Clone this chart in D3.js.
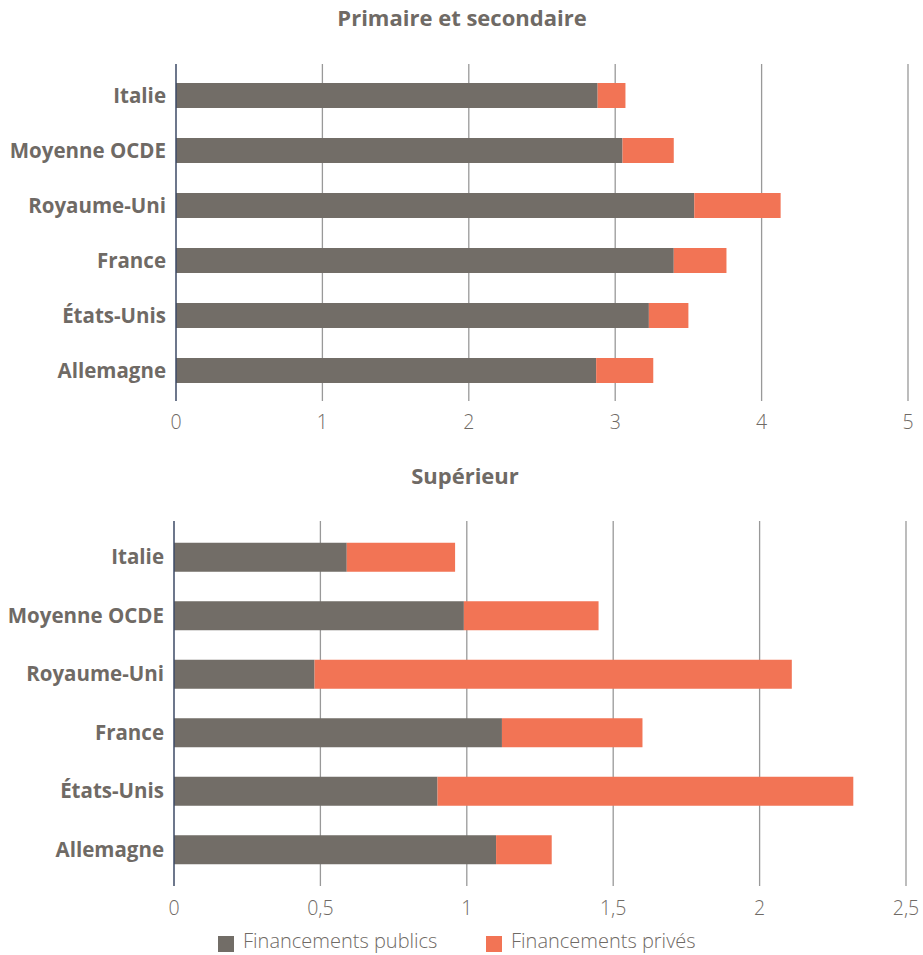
<!DOCTYPE html>
<html><head><meta charset="utf-8">
<script src="https://cdn.jsdelivr.net/npm/d3@7"></script>
<style>body{margin:0;background:#fff;} svg{display:block;}</style>
</head><body>
<script>
const categories = ["Italie","Moyenne OCDE","Royaume-Uni","France","États-Unis","Allemagne"];
const primPublic = [2.88,3.05,3.54,3.40,3.23,2.87];
const primPrive  = [0.19,0.35,0.59,0.36,0.27,0.39];
const supPublic  = [0.59,0.99,0.48,1.12,0.90,1.10];
const supPrive   = [0.37,0.46,1.63,0.48,1.42,0.19];
const primTicks = [0,1,2,3,4,5];
const supTicks = [0,0.5,1,1.5,2,2.5];
const seriesNames = ["Financements publics","Financements privés"];
const colors = ["#726d67","#f27455"];

const W=923,H=955;
const svg=d3.select("body").append("svg").attr("width",W).attr("height",H);
const font="'Open Sans', sans-serif";
const textCol="#6f6a65";
const fmt = v => String(v).replace(".",",");

function panel(opts){
  const {title,titleY,pub,priv,ticks,x0,x1,domMax,gridTop,gridBot,bandTop,bandBot,barH,tickY}=opts;
  const x=d3.scaleLinear().domain([0,domMax]).range([x0,x1]);
  const y=d3.scaleBand().domain(categories).range([bandTop,bandBot]).paddingInner(0).paddingOuter(0);
  svg.append("text").attr("x",opts.titleX).attr("y",titleY).attr("text-anchor","middle")
    .attr("font-family",font).attr("font-weight",700).attr("font-size",22).attr("fill",textCol).text(title);
  const g=svg.append("g");
  g.selectAll("line.grid").data(ticks.slice(1)).join("line")
    .attr("x1",d=>x(d)).attr("x2",d=>x(d)).attr("y1",gridTop).attr("y2",gridBot)
    .attr("stroke","#999").attr("stroke-width",1.3);
  categories.forEach((c,i)=>{
    const yc=y(c)+y.bandwidth()/2;
    g.append("rect").attr("x",x(0)).attr("y",yc-barH/2).attr("width",x(pub[i])-x(0)).attr("height",barH).attr("fill",colors[0]);
    g.append("rect").attr("x",x(pub[i])).attr("y",yc-barH/2).attr("width",x(pub[i]+priv[i])-x(pub[i])).attr("height",barH).attr("fill",colors[1]);
    g.append("text").attr("x",x0-10).attr("y",yc).attr("dy","0.35em").attr("text-anchor","end")
      .attr("font-family",font).attr("font-weight",700).attr("font-size",20.5).attr("fill",textCol).text(c);
  });
  g.append("line").attr("x1",x(0)).attr("x2",x(0)).attr("y1",gridTop).attr("y2",gridBot)
    .attr("stroke","#3d4a66").attr("stroke-width",1.5);
  g.selectAll("text.tick").data(ticks).join("text").attr("class","tick")
    .attr("x",d=>x(d)).attr("y",tickY).attr("text-anchor","middle")
    .attr("font-family",font).attr("font-weight",300).attr("font-size",19.5).attr("fill",textCol).text(fmt);
}

panel({title:"Primaire et secondaire",titleX:462,titleY:26,pub:primPublic,priv:primPrive,ticks:primTicks,
  x0:176,x1:908,domMax:5,gridTop:64,gridBot:401,bandTop:68,bandBot:398,barH:25,tickY:429});
panel({title:"Supérieur",titleX:465,titleY:484,pub:supPublic,priv:supPrive,ticks:supTicks,
  x0:174,x1:906,domMax:2.5,gridTop:521,gridBot:886,bandTop:528,bandBot:879,barH:29,tickY:915});

const leg=svg.append("g");
const lx=[218,486];
seriesNames.forEach((n,i)=>{
  leg.append("rect").attr("x",lx[i]).attr("y",936).attr("width",16).attr("height",16).attr("fill",colors[i]);
  leg.append("text").attr("x",lx[i]+25).attr("y",948).attr("font-family",font)
    .attr("font-weight",300).attr("font-size",20).attr("fill",textCol).text(n);
});
</script>
</body></html>
